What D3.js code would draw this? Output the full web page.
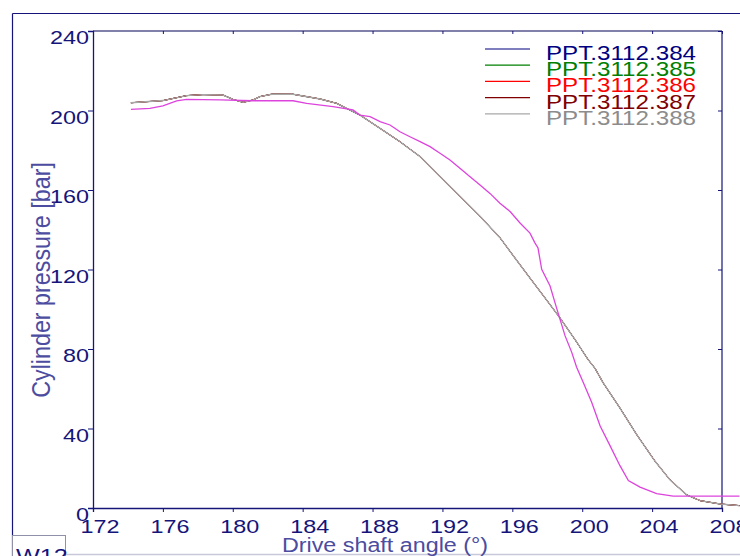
<!DOCTYPE html>
<html>
<head>
<meta charset="utf-8">
<script src="https://cdn.jsdelivr.net/npm/d3@7"></script>
<style>
  body { margin: 0; background: #fff; }
  svg { display: block; font-family: "Liberation Sans", Arial, sans-serif; }
</style>
</head>
<body>
<svg id="main" width="740" height="556"></svg>
<script>
// crank angle (deg) and cylinder pressure (bar)
var traceAngle = [174.17, 176.01, 177.36, 178.30, 179.44, 180.01, 180.59, 181.16, 181.56, 182.23,
  183.37, 184.02, 185.00, 185.95, 186.88, 187.28, 188.43, 189.57, 190.72, 191.86, 193.00,
  194.15, 195.29, 196.15, 197.01, 197.87, 198.73, 199.59, 200.35, 200.73, 201.21, 202.16,
  203.12, 204.17, 205.03, 205.98, 206.75, 207.90, 209.00];
var tracePressure = [203.9, 205.0, 207.5, 208.0, 207.8, 205.6, 204.1, 205.3, 207.0, 208.2,
  208.3, 207.3, 205.8, 203.6, 199.4, 197.7, 191.0, 184.3, 176.8, 166.8, 156.8,
  146.8, 136.0, 125.8, 115.7, 105.7, 95.6, 84.7, 74.5, 70.3, 62.8, 50.3,
  36.9, 23.5, 14.1, 6.6, 3.7, 2.0, 1.2];

var measAngle = [174.17, 175.26, 176.00, 176.79, 177.36, 179.27, 181.16, 183.45, 184.23, 185.74,
  186.88, 187.28, 187.86, 188.43, 189.00, 189.57, 190.14, 190.72, 191.29, 191.86, 192.43,
  193.00, 193.58, 194.15, 194.72, 195.29, 195.87, 196.44, 197.01, 197.30, 197.47, 197.68,
  198.16, 198.44, 198.73, 199.02, 199.40, 199.68, 200.06, 200.54, 201.02, 201.59, 202.16,
  202.64, 203.31, 204.26, 205.21, 206.34, 209.00];
var measPressure = [200.6, 201.1, 202.3, 204.8, 205.6, 205.3, 204.9, 204.9, 203.6, 202.0,
  200.3, 197.7, 196.9, 194.4, 192.7, 189.3, 186.8, 184.3, 181.8, 178.5, 175.1,
  170.9, 166.7, 162.5, 158.3, 153.3, 149.2, 143.4, 138.3, 133.3, 130.8, 120.1,
  111.7, 103.3, 94.9, 86.6, 78.3, 70.8, 63.2, 53.2, 41.4, 31.4, 21.3,
  13.8, 10.5, 7.2, 6.0, 6.0, 6.0];

var seriesNames = ["PPT.3112.384", "PPT.3112.385", "PPT.3112.386", "PPT.3112.387", "PPT.3112.388"];
var seriesColors = ["#000080", "#008000", "#ff0000", "#800000", "#a8a8a8"];
var textColors = ["#000080", "#008000", "#ff0000", "#800000", "#8c8c8c"];

var xTicks = [172, 176, 180, 184, 188, 192, 196, 200, 204, 208];
var yTicks = [0, 40, 80, 120, 160, 200, 240];

var svg = d3.select("#main");
var navy = "#14147a";
var titleColor = "#4c4ca0";

var x = d3.scaleLinear().domain([172, 208]).range([93, 722]);
var y = d3.scaleLinear().domain([0, 240]).range([508, 31]);

// outer frame
svg.append("line").attr("x1", 12.5).attr("x2", 740).attr("y1", 13.5).attr("y2", 13.5)
  .attr("stroke", navy).attr("stroke-width", 1.2);
svg.append("line").attr("x1", 12.5).attr("x2", 12.5).attr("y1", 13.5).attr("y2", 556)
  .attr("stroke", navy).attr("stroke-width", 1.2);
svg.append("line").attr("x1", 12).attr("x2", 740).attr("y1", 554.5).attr("y2", 554.5)
  .attr("stroke", "#c8c8dc").attr("stroke-width", 1.5);

// plot frame
svg.append("line").attr("x1", 93).attr("x2", 722).attr("y1", 31).attr("y2", 31)
  .attr("stroke", "#8080aa").attr("stroke-width", 2);
svg.append("line").attr("x1", 722).attr("x2", 722).attr("y1", 31).attr("y2", 508)
  .attr("stroke", navy).attr("stroke-width", 1.2);

// axes
var xAxis = svg.append("g").attr("transform", "translate(0,508)")
  .call(d3.axisBottom(x).tickValues(xTicks).tickSize(4).tickFormat(""));
var yAxis = svg.append("g").attr("transform", "translate(93,0)")
  .call(d3.axisLeft(y).tickValues(yTicks).tickSize(5).tickFormat(""));
var xTop = svg.append("g").attr("transform", "translate(0,31)")
  .call(d3.axisBottom(x).tickValues(xTicks).tickSize(3).tickFormat(""));
var yRight = svg.append("g").attr("transform", "translate(722,0)")
  .call(d3.axisLeft(y).tickValues(yTicks).tickSize(4).tickFormat(""));
[xAxis, yAxis, xTop, yRight].forEach(function(g) {
  g.selectAll("path").attr("stroke", navy).attr("stroke-width", 1.3);
  g.selectAll("line").attr("stroke", navy);
});
xTop.select("path").remove();
yRight.select("path").remove();

// tick labels (stretched like the original screenshot)
yTicks.forEach(function(v) {
  svg.append("text")
    .attr("transform", "translate(89," + (y(v) + 13) + ") scale(1.3,1)")
    .attr("text-anchor", "end").attr("font-size", 18).attr("fill", navy)
    .text(v);
});
xTicks.forEach(function(v) {
  svg.append("text")
    .attr("transform", "translate(" + (x(v) + 7) + ",533) scale(1.3,1)")
    .attr("text-anchor", "middle").attr("font-size", 18).attr("fill", navy)
    .text(v);
});

// axis titles
svg.append("text")
  .attr("transform", "translate(385,552) scale(1.11,1)")
  .attr("text-anchor", "middle").attr("font-size", 21).attr("fill", titleColor)
  .text("Drive shaft angle (°)");
svg.append("text")
  .attr("transform", "translate(50,280) rotate(-90) scale(1.11,1.2)")
  .attr("text-anchor", "middle").attr("font-size", 21).attr("fill", titleColor)
  .text("Cylinder pressure [bar]");

// W12 box
svg.append("rect").attr("x", 12.5).attr("y", 535.5).attr("width", 53).attr("height", 30)
  .attr("fill", "#fff").attr("stroke", "#9090a8");
svg.append("text")
  .attr("transform", "translate(16,563) scale(1.2,1)")
  .attr("font-size", 21).attr("fill", navy).text("W12");

// curves
var line = d3.line().x(function(d) { return x(d[0]); }).y(function(d) { return y(d[1]); });
var trace = d3.zip(traceAngle, tracePressure);
var meas = d3.zip(measAngle, measPressure);

seriesNames.forEach(function(name, i) {
  svg.append("path").datum(trace).attr("d", line)
    .attr("fill", "none").attr("stroke", seriesColors[i])
    .attr("stroke-width", i == 4 ? 1.4 : 1);
});
svg.append("path").datum(meas).attr("d", line)
  .attr("fill", "none").attr("stroke", "#dd44dd").attr("stroke-width", 1.3);

// legend
seriesNames.forEach(function(name, i) {
  var ly = 49 + i * 16.2;
  svg.append("line").attr("x1", 485).attr("x2", 530).attr("y1", ly).attr("y2", ly)
    .attr("stroke", seriesColors[i]).attr("stroke-width", 1.2);
  svg.append("text")
    .attr("transform", "translate(546," + (ly + 11) + ") scale(1.24,1)")
    .attr("font-size", 19.5).attr("fill", textColors[i]).text(name);
});
</script>
</body>
</html>
